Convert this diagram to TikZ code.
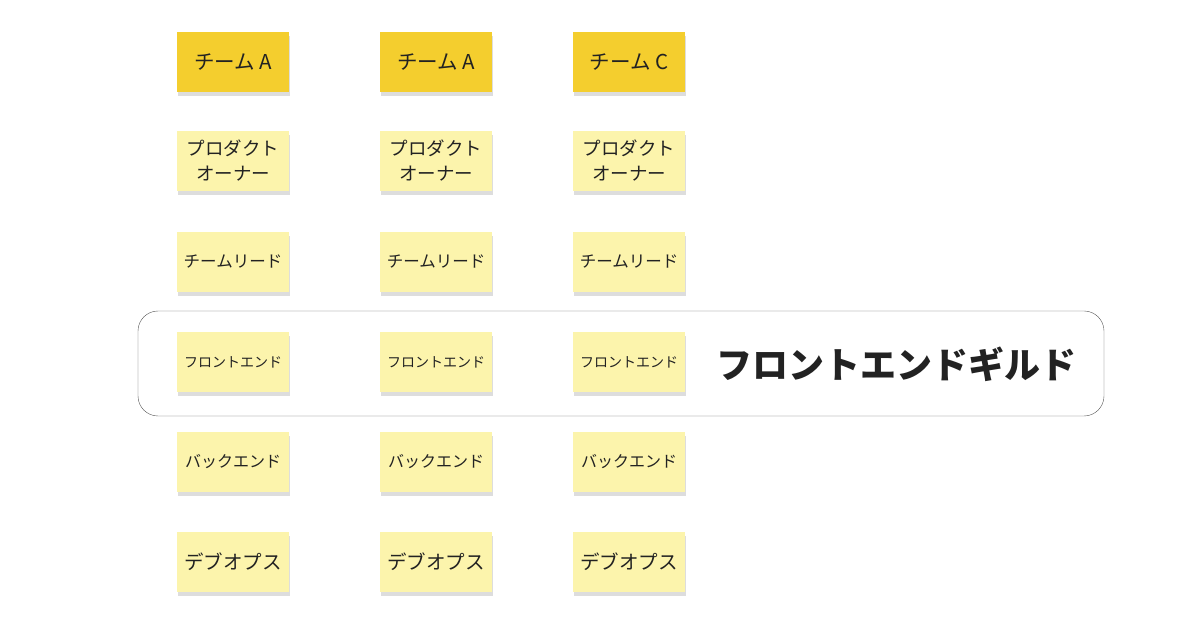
\documentclass[tikz,border=0pt]{standalone}
\usepackage{fontspec}
\setmainfont{Noto Sans CJK JP}
\usetikzlibrary{shadows}

\definecolor{teamyellow}{HTML}{F4CE2E}
\definecolor{noteyellow}{HTML}{FCF4AC}
\definecolor{inktext}{HTML}{222222}

\tikzset{
  sticky/.style={minimum width=112pt, minimum height=60pt, inner sep=1pt,
    align=center, text=inktext,
    drop shadow={shadow xshift=1pt, shadow yshift=-4pt, opacity=0.22, fill=black!60}},
  teamnote/.style={sticky, fill=teamyellow, font=\fontsize{20.5}{22}\selectfont},
  rolenote/.style={sticky, fill=noteyellow}
}

\begin{document}
\begin{tikzpicture}[x=1pt, y=-1pt]
\useasboundingbox[fill=white] (0,0) rectangle (1200,628);

% guild band
\draw[black!65, rounded corners=20pt] (138,311) rectangle (1104,416);
\node[font=\fontsize{36}{38}\selectfont\bfseries, text=inktext] (guild) at (896,364) {フロントエンドギルド};

% teams
\node[teamnote] (team1) at (233,62) {チーム A};
\node[teamnote] (team2) at (436,62) {チーム A};
\node[teamnote] (team3) at (629,62) {チーム C};

% roles per team
\foreach \i/\x in {1/233, 2/436, 3/629} {
  \node[rolenote, font=\fontsize{18.5}{25}\selectfont] (po\i) at (\x,161) {プロダクト\\オーナー};
  \node[rolenote, font=\fontsize{16.5}{18}\selectfont] (lead\i) at (\x,262) {チームリード};
  \node[rolenote, font=\fontsize{14}{16}\selectfont] (front\i) at (\x,362) {フロントエンド};
  \node[rolenote, font=\fontsize{16}{18}\selectfont] (back\i) at (\x,462) {バックエンド};
  \node[rolenote, font=\fontsize{19.5}{21}\selectfont] (devops\i) at (\x,562) {デブオプス};
}

\end{tikzpicture}
\end{document}
